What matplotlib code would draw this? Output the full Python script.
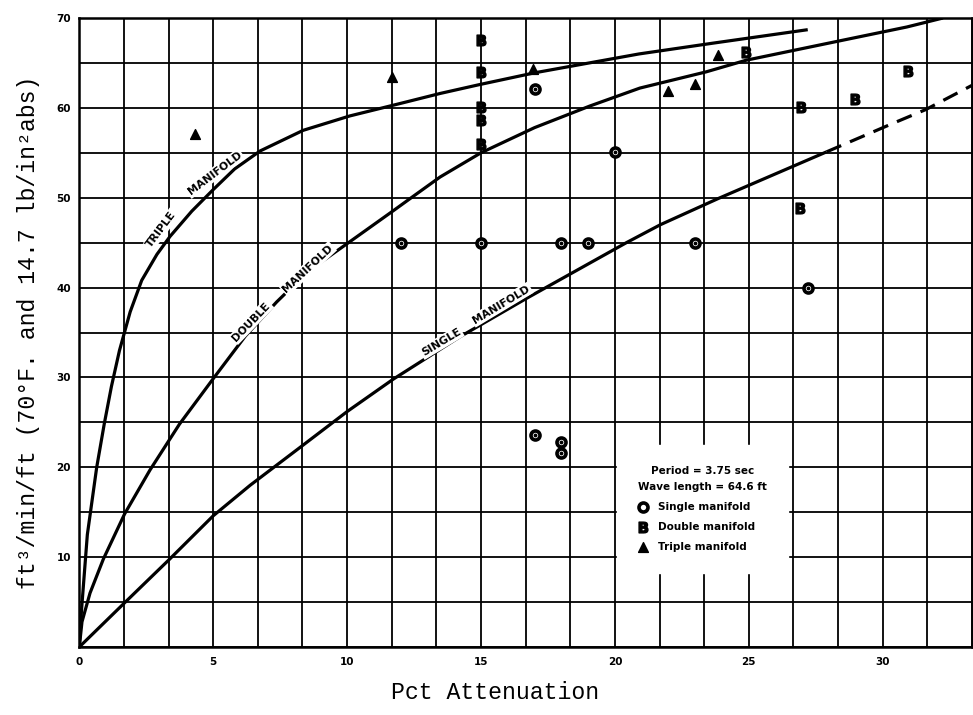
import numpy as np
import matplotlib
matplotlib.use("Agg")
import matplotlib.pyplot as plt
from matplotlib.font_manager import FontProperties

# ---------------- data ----------------
triple_x = [0, 0.08, 0.30, 0.65, 0.93, 1.2, 1.5, 1.9, 2.33, 2.9, 3.39, 4.2, 5.0, 5.8, 6.75, 8.36, 10.1, 12.0, 13.47, 14.96, 17.0, 20.9, 23.66, 27.2]
triple_y = [0, 4.0, 12.5, 20.0, 24.8, 29.0, 33.0, 37.3, 40.8, 43.7, 45.7, 48.5, 50.9, 53.2, 55.2, 57.5, 59.1, 60.5, 61.6, 62.6, 63.9, 66.0, 67.2, 68.7]

double_x = [0, 0.1, 0.4, 0.9, 1.69, 2.64, 3.74, 5.01, 6.2, 7.37, 8.54, 10.1, 11.7, 12.35, 13.47, 15.0, 17.0, 19.06, 20.93, 23.4, 24.9, 28.3, 30.9, 32.25]
double_y = [0, 2.8, 6.0, 9.8, 14.8, 19.7, 24.8, 29.9, 34.6, 38.4, 41.8, 45.1, 48.5, 49.9, 52.3, 55.0, 57.8, 60.2, 62.2, 64.0, 65.3, 67.4, 69.0, 70.0]

single_x = [0, 1.65, 3.38, 5.0, 6.38, 8.37, 10.0, 11.72, 14.2, 16.7, 20.43, 21.7, 23.85, 27.9]
single_y = [0, 4.8, 9.8, 14.6, 18.0, 22.5, 26.2, 29.8, 34.5, 38.8, 45.0, 47.0, 49.9, 55.1]
single_ext_x = [27.9, 30.4, 31.6, 33.33]
single_ext_y = [55.1, 58.3, 59.8, 62.5]

single_pts_x = [12, 15, 18, 19, 23, 20, 17, 27.2, 17, 18, 18]
single_pts_y = [45, 45, 45, 45, 45, 55.1, 62.1, 40, 23.6, 22.8, 21.6]

double_pts_x = [15, 15, 15, 15, 15, 24.9, 26.96, 26.9, 28.95, 30.94]
double_pts_y = [67.6, 64.0, 60.1, 58.6, 56.0, 66.2, 60.1, 48.9, 61.0, 64.1]

triple_pts_x = [4.32, 11.68, 16.95, 22.0, 22.98, 23.85]
triple_pts_y = [57.1, 63.4, 64.3, 61.9, 62.6, 65.9]

x_ticks = [0, 5, 10, 15, 20, 25, 30]
x_ticklabels = ["0", "5", "10", "15", "20", "25", "30"]
y_ticks = [10, 20, 30, 40, 50, 60, 70]
y_ticklabels = ["10", "20", "30", "40", "50", "60", "70"]

legend_title = "Period = 3.75 sec\nWave length = 64.6 ft"
series_names = ["Single manifold", "Double manifold", "Triple manifold"]

xlabel = "Pct Attenuation"
ylabel = "ft\u00b3/min/ft (70\u00b0F. and 14.7 lb/in\u00b2abs)"

# ---------------- figure ----------------
fig = plt.figure(figsize=(9.73, 7.15), dpi=100)
ax = fig.add_axes([79.3 / 973, (715 - 647) / 715, (972 - 79.3) / 973, (647 - 18) / 715])

ax.set_xlim(0, 33.333)
ax.set_ylim(0, 70)

ax.set_xticks(x_ticks)
ax.set_xticklabels(x_ticklabels)
ax.set_xticks(np.arange(0, 33.34, 5 / 3), minor=True)
ax.set_yticks(y_ticks)
ax.set_yticklabels(y_ticklabels)
ax.set_yticks(np.arange(0, 70.1, 5), minor=True)

ax.set_axisbelow(True)
ax.grid(True, which="both", color="black", linewidth=1.3)
ax.tick_params(which="both", length=0)
ax.tick_params(axis="x", pad=7)
ax.tick_params(axis="y", pad=6)
for lab in ax.get_xticklabels() + ax.get_yticklabels():
    lab.set_fontweight("bold")
    lab.set_fontsize(7.5)
for s in ax.spines.values():
    s.set_linewidth(1.8)

lw = 2.3
for xs, ys in ((triple_x, triple_y), (double_x, double_y), (single_x, single_y)):
    ax.plot(xs, ys, color="black", lw=lw, zorder=3,
            solid_capstyle="butt", solid_joinstyle="round")
ax.plot(single_ext_x, single_ext_y, color="black", lw=lw, zorder=3, ls=(0, (5, 3)))

ax.scatter(single_pts_x, single_pts_y, marker="o", s=42, facecolors="white",
           edgecolors="black", linewidths=2.6, zorder=5, label=series_names[0])
ax.scatter(single_pts_x, single_pts_y, marker="o", s=3, color="black", zorder=6)
ax.scatter(double_pts_x, double_pts_y, marker=r"$\mathbf{B}$", s=60, color="black",
           zorder=5, label=series_names[1])
ax.scatter(triple_pts_x, triple_pts_y, marker="^", s=50, color="black",
           zorder=5, label=series_names[2])

# curve labels
tkw = dict(fontsize=7.8, fontweight="bold", ha="center", va="center",
           rotation_mode="anchor", zorder=4,
           bbox=dict(facecolor="white", edgecolor="none", pad=1.0))
ax.text(3.07, 46.5, "TRIPLE", rotation=53, **tkw)
ax.text(5.06, 52.7, "MANIFOLD", rotation=37, **tkw)
ax.text(6.43, 36.2, "DOUBLE", rotation=46, **tkw)
ax.text(8.54, 42.1, "MANIFOLD", rotation=43, **tkw)
ax.text(13.52, 33.9, "SINGLE", rotation=31, **tkw)
ax.text(15.76, 38.1, "MANIFOLD", rotation=31, **tkw)

# legend
bold = FontProperties(family="DejaVu Sans", weight="bold", size=7.5)
leg = ax.legend(loc="upper left", bbox_to_anchor=((617 - 79.3) / 892.7, (647 - 445) / 629),
                borderaxespad=0, borderpad=2.0, frameon=True, fancybox=False,
                facecolor="white", edgecolor="white", framealpha=1,
                prop=bold, title=legend_title, title_fontproperties=bold,
                handlelength=1.0, handletextpad=0.9, labelspacing=0.95,
                scatterpoints=1, alignment="left")
leg.get_title().set_multialignment("center")
leg.get_title().set_linespacing(1.8)

mono = "Liberation Mono"
ax.set_xlabel(xlabel, fontfamily=mono, fontsize=16.7)
ax.xaxis.set_label_coords((495 - 79.3) / 892.7, -0.073)
ax.xaxis.label.set_va("center")
ax.set_ylabel(ylabel, fontfamily=mono, fontsize=16.7, labelpad=12)

fig.savefig("out.png", dpi=100)
